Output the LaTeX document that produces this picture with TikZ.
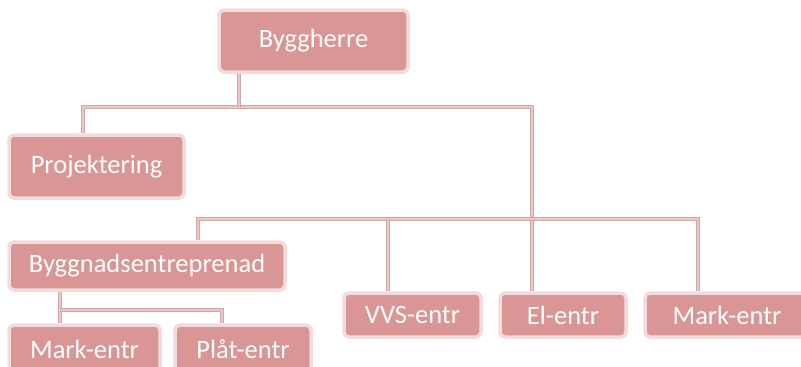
\documentclass[tikz,border=0pt]{standalone}
\usepackage{fontspec}
\setmainfont{Carlito}
\usetikzlibrary{shadows,backgrounds}
\definecolor{boxfill}{HTML}{D99694}
\definecolor{boxrim}{HTML}{F2DCDB}
\definecolor{lineedge}{HTML}{CFA8A8}
\definecolor{linefill}{HTML}{F0C4C4}
\tikzset{
  orgbox/.style={rectangle, rounded corners=5pt, fill=boxfill, draw=boxrim, line width=3.5pt,
    text=white, font=\fontsize{26.5}{30}\selectfont, inner sep=0pt,
    drop shadow={shadow xshift=1pt, shadow yshift=-1.2pt, opacity=0.35, fill=gray}},
  conn/.style={draw=lineedge, line width=0.7pt, double=linefill, double distance=2.4pt}
}
\begin{document}
\begin{tikzpicture}[x=1pt,y=-1pt]
\useasboundingbox (0,0) rectangle (801,367);
\begin{scope}
\clip (0,0) rectangle (801,367);
\node[orgbox, minimum width=189pt, minimum height=62pt] (bygg) at (313.5,41) {Byggherre};
\node[orgbox, minimum width=175pt, minimum height=63pt] (proj) at (96.5,166.5) {Projektering};
\node[orgbox, minimum width=276pt, minimum height=48pt] (bent) at (147,266) {Byggnadsentreprenad};
\node[orgbox, minimum width=151pt, minimum height=48pt] (mark1) at (84.5,349) {Mark-entr};
\node[orgbox, minimum width=136pt, minimum height=48pt] (plat) at (243,349) {Plåt-entr};
\node[orgbox, minimum width=137pt, minimum height=44pt] (vvs) at (412.5,315) {VVS-entr};
\node[orgbox, minimum width=126pt, minimum height=44pt] (el) at (563,315) {El-entr};
\node[orgbox, minimum width=164pt, minimum height=44pt] (mark2) at (727,315) {Mark-entr};
\coordinate (h1L) at (83,107);
\coordinate (h1M) at (239,107);
\coordinate (h1R) at (532,107);
\coordinate (h2L) at (198,219);
\coordinate (h2M) at (388,219);
\coordinate (h2R) at (698,219);
\coordinate (h3L) at (60,310);
\coordinate (h3R) at (222,310);
\begin{pgfonlayer}{background}
\draw[conn] (proj.north -| h1L) -- (h1L) -- (h1R) -- (el.north -| h1R);
\draw[conn] (bygg.south -| h1M) -- (h1M);
\draw[conn] (bent.north -| h2L) -- (h2L) -- (h2R) -- (mark2.north -| h2R);
\draw[conn] (h2M) -- (vvs.north -| h2M);
\draw[conn] (bent.south -| h3L) -- (mark1.north -| h3L);
\draw[conn] (h3L) -- (h3R) -- (plat.north -| h3R);
\end{pgfonlayer}
\end{scope}
\end{tikzpicture}
\end{document}
